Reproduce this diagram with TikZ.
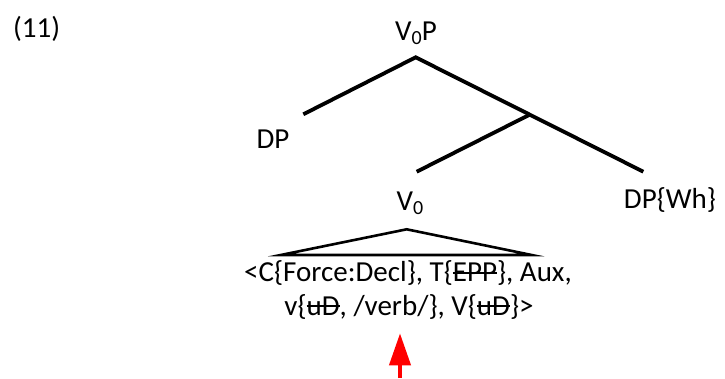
\documentclass[tikz,border=0pt]{standalone}
\usepackage{fontspec}
\setmainfont{Carlito}
\usetikzlibrary{arrows.meta}
\newsavebox\strkbox
\newcommand\strk[1]{\sbox\strkbox{#1}\rlap{\rule[8pt]{\wd\strkbox}{1.8pt}}\usebox\strkbox}
\newcommand\zsub{\raisebox{-4.5pt}{\fontsize{20}{20}\selectfont 0}}
\begin{document}
\begin{tikzpicture}[x=1pt,y=-1pt,
  lbl/.style={font=\fontsize{29}{33}\selectfont, inner sep=0pt, anchor=base},
  branch/.style={line width=3.8pt},
  tri/.style={line width=2.6pt, line join=miter},
  pointer/.style={red, line width=4pt, -{Triangle[length=32pt,width=21pt]}}]
\useasboundingbox (0,0) rectangle (725,378);
% labels
\node[lbl, anchor=base west] (ex) at (13,37) {(11)};
\node[lbl] (root) at (416,40) {V\zsub P};
\node[lbl] (dp) at (273,148.5) {DP};
\node[lbl] (v0) at (410,210) {V\zsub};
\node[lbl] (dpwh) at (670,208.5) {DP\{Wh\}};
\node[lbl] (line1) at (408,281.5) {<C\{Force:Decl\}, T\{\strk{EPP}\}, Aux,};
\node[lbl] (line2) at (409,315) {v\{\strk{uD}, /verb/\}, V\{\strk{uD}\}>};
% branch points
\coordinate (top) at (415.7,57.3);
\coordinate (dpend) at (303.3,114.3);
\coordinate (mid) at (530,114.5);
\coordinate (dpwhend) at (643.3,171.7);
\coordinate (v0end) at (416.7,171.7);
% tree
\draw[branch] (dpend) -- (top) -- (dpwhend);
\draw[branch] (mid) -- (v0end);
% triangle
\coordinate (apex) at (406.7,229.3);
\coordinate (bl) at (280.7,255);
\coordinate (br) at (531.7,255);
\draw[tri] (apex) -- (bl) -- (br) -- cycle;
% red arrow
\coordinate (arrbot) at (400,378);
\coordinate (arrtip) at (400,333.3);
\draw[pointer] (arrbot) -- (arrtip);
\end{tikzpicture}
\end{document}
